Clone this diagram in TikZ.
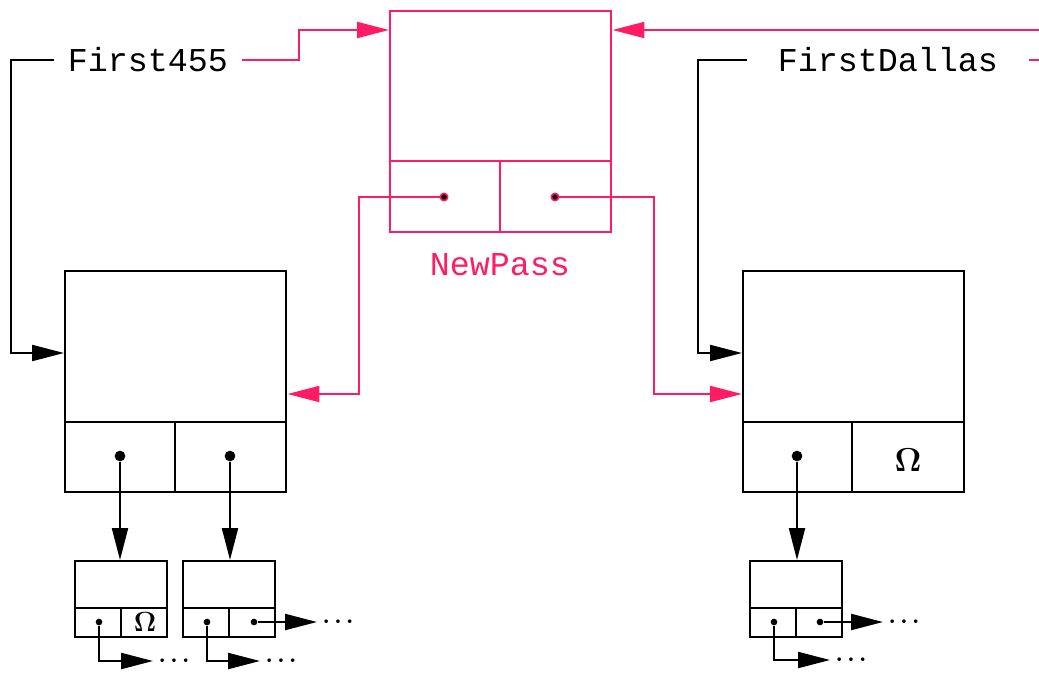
\documentclass[tikz,border=0pt]{standalone}
\usepackage[no-math]{fontspec}
\setmonofont{Liberation Mono}
\usetikzlibrary{arrows.meta}
\definecolor{npink}{RGB}{255,28,100}
\begin{document}
\begin{tikzpicture}[x=0.75pt,y=-0.75pt,
  ln/.style={line width=1.6pt, line join=miter},
  arr/.style={-{Triangle[length=24pt,width=12pt]}},
  big/.style={draw, line width=1.6pt, minimum width=166pt, minimum height=165.75pt, anchor=north west, inner sep=0pt},
  small/.style={draw, line width=1.6pt, minimum width=69pt, minimum height=57pt, anchor=north west, inner sep=0pt},
  dotb/.style={circle, fill=black, inner sep=0pt, minimum size=8pt},
  dots/.style={circle, fill=black, inner sep=0pt, minimum size=5pt},
  dotp/.style={circle, fill=black, draw=npink, line width=1.2pt, inner sep=0pt, minimum size=5.5pt},
  lbl/.style={font=\ttfamily\fontsize{25}{28}\selectfont, inner ysep=2pt, inner xsep=10pt},
  ell/.style={font=\fontsize{16}{18}\selectfont\boldmath, anchor=west, inner xsep=4pt, inner ysep=0pt},
  om/.style={inner sep=0pt}
]
\useasboundingbox (0,0) rectangle (1039,672);

% boxes
\node[big, draw=npink] (np) at (389,10) {};
\draw[ln, npink] (389,161) -- (610,161) (500,161) -- (500,231);
\node[big] (L) at (64,270) {};
\draw[ln] (64,422) -- (286,422) (175,422) -- (175,491);
\node[big] (R) at (742,270) {};
\draw[ln] (742,422) -- (963,422) (852,422) -- (852,491);
\node[small] (s1) at (74,560) {};
\draw[ln] (74,608) -- (166,608) (121,608) -- (121,636);
\node[small] (s2) at (182,560) {};
\draw[ln] (182,608) -- (274,608) (229,608) -- (229,636);
\node[small] (s3) at (749,560) {};
\draw[ln] (749,608) -- (841,608) (796,608) -- (796,636);

% dots
\node[dotp] (pd1) at (444,197) {};
\node[dotp] (pd2) at (555,197) {};
\node[dotb] (ld1) at (120,456) {};
\node[dotb] (ld2) at (230,456) {};
\node[dotb] (rd1) at (797,456) {};
\node[dots] (sd1) at (99,622) {};
\node[dots] (sd2) at (207,622) {};
\node[dots] (sd3) at (254,622) {};
\node[dots] (sd4) at (774,622) {};
\node[dots] (sd5) at (820,622) {};

% omegas
\node[om, font=\fontsize{24}{28}\selectfont] (om1) at (908,460) {$\mathbf{\Omega}$};
\node[om, font=\fontsize{21}{24}\selectfont] (om2) at (145,622) {$\mathbf{\Omega}$};

% labels
\node[lbl] (f455) at (148,60) {First455};
\node[lbl, inner xsep=23pt] (fd) at (888,60) {FirstDallas};
\node[lbl, text=npink] (nplbl) at (500,265) {NewPass};

% ellipses
\node[ell] (e1) at (153,661) {$\ldots$};
\node[ell] (e2) at (260,661) {$\ldots$};
\node[ell] (e3) at (317,622) {$\ldots$};
\node[ell] (e4) at (830,660) {$\ldots$};
\node[ell] (e5) at (883,622) {$\ldots$};

% black connectors
\coordinate (c1) at (11,353);
\draw[ln,arr] (f455.west) -| (c1) -- (L.west |- c1);
\coordinate (c4) at (698,353);
\draw[ln,arr] (fd.west) -| (c4) -- (R.west |- c4);
\draw[ln,arr] (ld1) -- (ld1 |- s1.north);
\draw[ln,arr] (ld2) -- (ld2 |- s2.north);
\draw[ln,arr] (rd1) -- (rd1 |- s3.north);
\draw[ln,arr] (sd1) |- (e1.west);
\draw[ln,arr] (sd2) |- (e2.west);
\draw[ln,arr] (sd3) -- (e3.west);
\draw[ln,arr] (sd4) |- (e4.west);
\draw[ln,arr] (sd5) -- (e5.west);

% pink connectors
\coordinate (c2) at (299,30);
\draw[ln,npink,arr] (f455.east) -| (c2) -- (np.west |- c2);
\coordinate (rx1) at (1039,60);
\draw[ln,npink] (fd.east) -- (rx1);
\coordinate (rx2) at (1039,30);
\draw[ln,npink,arr] (rx2) -- (np.east |- rx2);
\coordinate (c5) at (359,394);
\draw[ln,npink,arr] (pd1) -| (c5) -- (L.east |- c5);
\coordinate (c6) at (654,394);
\draw[ln,npink,arr] (pd2) -| (c6) -- (R.west |- c6);
\end{tikzpicture}
\end{document}
